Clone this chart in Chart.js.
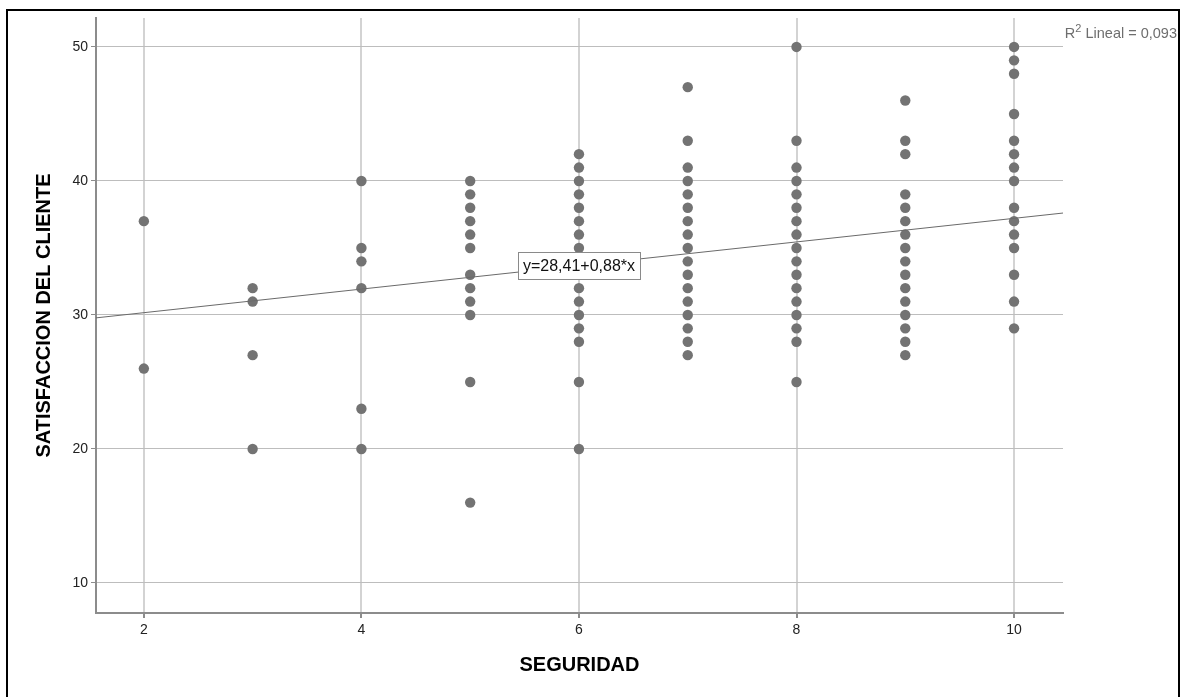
<!DOCTYPE html>
<html lang="es">
<head>
<meta charset="utf-8">
<title>Seguridad vs satisfacción del cliente</title>
<script src="https://cdn.jsdelivr.net/npm/chart.js@4.4.1/dist/chart.umd.min.js"></script>
<style>
  html, body { margin: 0; padding: 0; background: #fff; }
  #marco { position: absolute; left: 6px; top: 9px; width: 1170px; height: 700px; border: 2px solid #000; border-bottom: none; }
  #lienzo { position: absolute; left: 0; top: 0; }
</style>
</head>
<body>
<div id="marco"></div>
<div id="lienzo"><canvas id="grafica" width="1180" height="697"></canvas></div>
<script>
const niveles = [2, 3, 4, 5, 6, 7, 8, 9, 10];
const nivel2 = [37, 26];
const nivel3 = [32, 31, 27, 20];
const nivel4 = [40, 35, 34, 32, 23, 20];
const nivel5 = [40, 39, 38, 37, 36, 35, 33, 32, 31, 30, 25, 16];
const nivel6 = [42, 41, 40, 39, 38, 37, 36, 35, 34, 33, 32, 31, 30, 29, 28, 25, 20];
const nivel7 = [47, 43, 41, 40, 39, 38, 37, 36, 35, 34, 33, 32, 31, 30, 29, 28, 27];
const nivel8 = [50, 43, 41, 40, 39, 38, 37, 36, 35, 34, 33, 32, 31, 30, 29, 28, 25];
const nivel9 = [46, 43, 42, 39, 38, 37, 36, 35, 34, 33, 32, 31, 30, 29, 28, 27];
const nivel10 = [50, 49, 48, 45, 43, 42, 41, 40, 38, 37, 36, 35, 33, 31, 29];

const ticksX = [2, 4, 6, 8, 10];
const ticksY = [10, 20, 30, 40, 50];

// Recta de ajuste lineal
const intercepto = 28.41;
const pendiente = 0.88;
const textoRecta = 'y=28,41+0,88*x';
const textoR2 = ' Lineal = 0,093';
const posicionEtiqueta = 6;

const valoresPorNivel = [nivel2, nivel3, nivel4, nivel5, nivel6, nivel7, nivel8, nivel9, nivel10];
const puntos = [];
niveles.forEach((n, i) => valoresPorNivel[i].forEach(v => puntos.push({ x: n, y: v })));

const xMin = 1.56, xMax = 10.45;
const recta = [xMin, xMax].map(x => ({ x: x, y: intercepto + pendiente * x }));

const fuente = '"Liberation Sans", Arial, sans-serif';

const etiquetas = {
  id: 'etiquetas',
  afterDatasetsDraw(chart) {
    const { ctx, scales: { x, y } } = chart;
    const px = x.getPixelForValue(posicionEtiqueta);
    const py = y.getPixelForValue(intercepto + pendiente * posicionEtiqueta);
    ctx.save();
    ctx.font = '16px ' + fuente;
    const w = Math.round(ctx.measureText(textoRecta).width + 10);
    const h = 27;
    const bx = Math.round(px - w / 2), by = Math.round(py - h / 2);
    ctx.fillStyle = '#fff';
    ctx.fillRect(bx, by, w, h);
    ctx.strokeStyle = '#8a8a8a';
    ctx.lineWidth = 1;
    ctx.strokeRect(bx + 0.5, by + 0.5, w, h);
    ctx.fillStyle = '#111';
    ctx.textAlign = 'center';
    ctx.textBaseline = 'middle';
    ctx.fillText(textoRecta, px, py + 1);

    // R2 arriba a la derecha
    ctx.fillStyle = '#6e6e6e';
    ctx.textAlign = 'left';
    ctx.textBaseline = 'alphabetic';
    ctx.font = '14.5px ' + fuente;
    const wR = ctx.measureText('R').width;
    const wResto = ctx.measureText(textoR2).width;
    ctx.font = '11px ' + fuente;
    const w2 = ctx.measureText('2').width;
    let cx = 1177 - (wR + w2 + wResto);
    ctx.font = '14.5px ' + fuente;
    ctx.fillText('R', cx, 38);
    cx += wR;
    ctx.font = '11px ' + fuente;
    ctx.fillText('2', cx, 32);
    cx += w2;
    ctx.font = '14.5px ' + fuente;
    ctx.fillText(textoR2, cx, 38);
    ctx.restore();
  }
};

new Chart(document.getElementById('grafica'), {
  type: 'scatter',
  data: {
    datasets: [
      {
        data: recta, showLine: true, pointRadius: 0, borderColor: '#6a6a6a',
        borderWidth: 1, order: 0
      },
      {
        data: puntos, pointRadius: 5.2, backgroundColor: '#737373',
        borderColor: '#737373', borderWidth: 0, order: 1
      }
    ]
  },
  options: {
    responsive: false,
    devicePixelRatio: 1,
    animation: false,
    events: [],
    layout: { padding: { left: 0, top: 18, right: 117, bottom: 0 } },
    plugins: { legend: { display: false }, tooltip: { enabled: false } },
    scales: {
      x: {
        type: 'linear', min: xMin, max: xMax,
        afterBuildTicks: s => { s.ticks = ticksX.map(v => ({ value: v })); },
        afterFit: s => { s.height = 84; },
        grid: { color: '#d3d3d3', lineWidth: 2, tickLength: 5, tickColor: '#8c8c8c' },
        border: { color: '#8c8c8c', width: 2 },
        ticks: { color: '#222', font: { family: fuente, size: 14 }, padding: 4, maxRotation: 0 },
        title: {
          display: true, text: 'SEGURIDAD', color: '#000',
          font: { family: fuente, size: 20, weight: 'bold' }, padding: { top: 0, bottom: 20 }
        }
      },
      y: {
        min: 7.76, max: 52.16,
        afterBuildTicks: s => { s.ticks = ticksY.map(v => ({ value: v })); },
        afterFit: s => { s.width = 96; },
        grid: { color: '#bdbdbd', lineWidth: 1, tickLength: 5, tickColor: '#8c8c8c' },
        border: { color: '#8c8c8c', width: 2 },
        ticks: { color: '#222', font: { family: fuente, size: 14 }, padding: 3 },
        title: {
          display: true, text: 'SATISFACCION DEL CLIENTE', color: '#000',
          font: { family: fuente, size: 20, weight: 'bold' }, padding: { top: 32, bottom: 0 }
        }
      }
    }
  },
  plugins: [etiquetas]
});
</script>
</body>
</html>
